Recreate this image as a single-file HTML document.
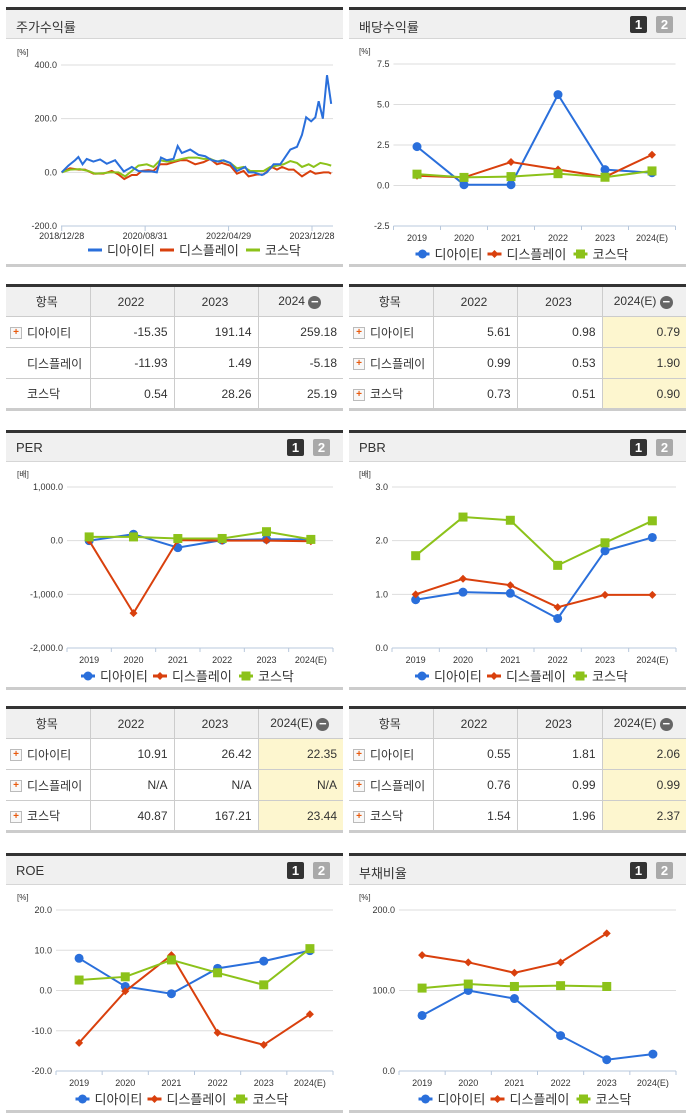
<!DOCTYPE html>
<html><head><meta charset="utf-8">
<style>
body{margin:0;width:691px;height:1115px;background:#fff;position:relative;overflow:hidden;font-family:"Liberation Sans","Noto Sans CJK KR",sans-serif;}
.hd{position:absolute;background:#f0f0f0;border-top:3px solid #333;border-bottom:1px solid #d6d6d6;box-sizing:border-box;font-size:13px;color:#333;}
.hd span.t{position:absolute;left:10px;top:7px;}
.btn{position:absolute;width:17px;height:17px;top:6px;color:#fff;font-weight:bold;font-size:13px;text-align:center;line-height:17px;border-radius:2px;}
.b1{background:#333}.b2{background:#a9a9a9}
.bot{position:absolute;height:3px;background:#ccc;}
table{position:absolute;border-collapse:collapse;font-size:12px;color:#333;border-top:3px solid #333;border-bottom:3px solid #ccc;}
td{border:1px solid #ccc;height:31px;padding:0 6px 0 4px;text-align:right;box-sizing:border-box;}
tr td:first-child{border-left:none;text-align:left;}
tr td:last-child{border-right:none;}
tr.h td{background:#f0f0f0;text-align:center;}
.pl{display:inline-block;width:10px;height:10px;border:1px solid #bbb;background:#f8f8f8;color:#e8590c;font-size:10px;line-height:10px;text-align:center;font-weight:bold;vertical-align:middle;margin:0 5px 0 0;}
.sp{display:inline-block;width:17px;}
.mn{display:inline-block;width:13px;height:13px;border-radius:50%;background:#666;color:#fff;line-height:12px;font-size:13px;vertical-align:middle;font-weight:bold;}
.y td.e{background:#fdf6cf;}
svg text{font-family:"Liberation Sans","Noto Sans CJK KR",sans-serif;}
</style></head><body>

<div class="hd" style="left:6px;top:7px;width:337px;height:32px"><span class="t">주가수익률</span></div>
<div class="hd" style="left:349px;top:7px;width:337px;height:32px"><span class="t">배당수익률</span><div class="btn b1" style="left:281px">1</div><div class="btn b2" style="left:307px">2</div></div>
<div class="bot" style="left:6px;top:264px;width:337px"></div>
<div class="bot" style="left:349px;top:264px;width:337px"></div>

<table style="left:6px;top:284px;width:337px">
<colgroup><col style="width:84px"><col style="width:84px"><col style="width:84px"><col></colgroup>
<tr class="h"><td>항목</td><td>2022</td><td>2023</td><td>2024 <span class="mn">−</span></td></tr>
<tr><td><span class="pl">+</span>디아이티</td><td>-15.35</td><td>191.14</td><td>259.18</td></tr>
<tr><td><span class="sp"></span>디스플레이</td><td>-11.93</td><td>1.49</td><td>-5.18</td></tr>
<tr><td><span class="sp"></span>코스닥</td><td>0.54</td><td>28.26</td><td>25.19</td></tr>
</table>
<table class="y" style="left:349px;top:284px;width:337px">
<colgroup><col style="width:84px"><col style="width:84px"><col style="width:85px"><col></colgroup>
<tr class="h"><td>항목</td><td>2022</td><td>2023</td><td>2024(E) <span class="mn">−</span></td></tr>
<tr><td><span class="pl">+</span>디아이티</td><td>5.61</td><td>0.98</td><td class="e">0.79</td></tr>
<tr><td><span class="pl">+</span>디스플레이</td><td>0.99</td><td>0.53</td><td class="e">1.90</td></tr>
<tr><td><span class="pl">+</span>코스닥</td><td>0.73</td><td>0.51</td><td class="e">0.90</td></tr>
</table>

<div class="hd" style="left:6px;top:430px;width:337px;height:32px"><span class="t">PER</span><div class="btn b1" style="left:281px">1</div><div class="btn b2" style="left:307px">2</div></div>
<div class="hd" style="left:349px;top:430px;width:337px;height:32px"><span class="t">PBR</span><div class="btn b1" style="left:281px">1</div><div class="btn b2" style="left:307px">2</div></div>
<div class="bot" style="left:6px;top:687px;width:337px"></div>
<div class="bot" style="left:349px;top:687px;width:337px"></div>

<table class="y" style="left:6px;top:706px;width:337px">
<colgroup><col style="width:84px"><col style="width:84px"><col style="width:84px"><col></colgroup>
<tr class="h"><td>항목</td><td>2022</td><td>2023</td><td>2024(E) <span class="mn">−</span></td></tr>
<tr><td><span class="pl">+</span>디아이티</td><td>10.91</td><td>26.42</td><td class="e">22.35</td></tr>
<tr><td><span class="pl">+</span>디스플레이</td><td>N/A</td><td>N/A</td><td class="e">N/A</td></tr>
<tr><td><span class="pl">+</span>코스닥</td><td>40.87</td><td>167.21</td><td class="e">23.44</td></tr>
</table>
<table class="y" style="left:349px;top:706px;width:337px">
<colgroup><col style="width:84px"><col style="width:84px"><col style="width:85px"><col></colgroup>
<tr class="h"><td>항목</td><td>2022</td><td>2023</td><td>2024(E) <span class="mn">−</span></td></tr>
<tr><td><span class="pl">+</span>디아이티</td><td>0.55</td><td>1.81</td><td class="e">2.06</td></tr>
<tr><td><span class="pl">+</span>디스플레이</td><td>0.76</td><td>0.99</td><td class="e">0.99</td></tr>
<tr><td><span class="pl">+</span>코스닥</td><td>1.54</td><td>1.96</td><td class="e">2.37</td></tr>
</table>

<div class="hd" style="left:6px;top:853px;width:337px;height:32px"><span class="t">ROE</span><div class="btn b1" style="left:281px">1</div><div class="btn b2" style="left:307px">2</div></div>
<div class="hd" style="left:349px;top:853px;width:337px;height:32px"><span class="t">부채비율</span><div class="btn b1" style="left:281px">1</div><div class="btn b2" style="left:307px">2</div></div>
<div class="bot" style="left:6px;top:1110px;width:337px"></div>
<div class="bot" style="left:349px;top:1110px;width:337px"></div>

<svg id="sv" width="691" height="1115" style="position:absolute;left:0;top:0"></svg>

<script>
const seriesNames=["디아이티","디스플레이","코스닥"];
const years=["2019","2020","2021","2022","2023","2024(E)"];
// stock return (months since 2018/12/28, %)
const stockTickLabels=["2018/12/28","2020/08/31","2022/04/29","2023/12/28"];
const stockTickMonths=[0,20,40,60];
const ditMonths=[0,1.6,3.2,4,5,6,7.6,9.2,10.8,12.8,14.9,16.8,18.4,20,21.6,22.8,23.8,25.2,26.8,27.8,28.8,30.8,32.8,34.4,36,37.6,38.8,40.4,42,44,44.8,46,48,49.2,50.8,52.4,54.8,56.4,57.6,58.6,59.8,60.8,61.6,62.6,63.6,64.6];
const ditReturn=[0,25,45,57,30,50,40,48,32,45,3,20,5,3,3,0,55,45,50,98,72,85,65,60,45,40,45,35,5,20,0,0,-10,0,30,30,85,95,140,205,190,205,265,200,362,255];
const dispMonths=[0,2,4,5.6,7.6,10,12,13.6,15,16.8,18,19.2,20.8,22,23.6,25.2,26.8,28.4,30,32,34,35.6,37.2,38.4,40.4,42,43.6,44.8,46.8,48.4,50.4,51.6,52.8,54.4,55.6,57.6,59.6,60.8,62.8,64,64.6];
const dispReturn=[0,15,10,10,-5,-5,5,-8,-25,-10,-10,5,8,5,30,30,38,45,45,30,38,50,30,35,25,-5,5,-15,-8,-8,20,10,20,10,10,-15,5,-5,0,0,-5];
const kosMonths=[0,2,4.4,6.4,8,10,11.6,13.6,15.2,16.8,18.4,20.4,22,23.6,25.2,26.8,28.8,30.4,32.4,34,35.6,37.2,38.4,40.4,42,43.6,45.2,46.8,48.4,50,51.6,53.2,54.8,56.4,57.6,59.2,60.4,62,63.6,64.6];
const kosReturn=[0,10,12,5,-5,-3,0,0,-15,5,25,30,20,45,40,42,50,55,55,50,50,40,45,35,15,20,5,5,5,20,25,30,42,35,20,30,20,35,30,25];
// dividend yield
const divDit=[2.4,0.05,0.05,5.61,0.98,0.79];
const divDisp=[0.6,0.5,1.45,0.99,0.53,1.90];
const divKos=[0.7,0.5,0.55,0.73,0.51,0.90];
// PER
const perDit=[0,120,-130,10.91,26.42,22.35];
const perDisp=[0,-1350,10,0,0,-10];
const perKos=[70,70,40,40.87,167.21,23.44];
// PBR
const pbrDit=[0.9,1.04,1.02,0.55,1.81,2.06];
const pbrDisp=[1.0,1.29,1.17,0.76,0.99,0.99];
const pbrKos=[1.72,2.44,2.38,1.54,1.96,2.37];
// ROE
const roeDit=[8,1,-0.8,5.5,7.3,9.9];
const roeDisp=[-13,-0.2,8.8,-10.5,-13.5,-5.9];
const roeKos=[2.6,3.4,7.6,4.4,1.4,10.4];
// debt ratio
const debtDit=[69,100,90,44,14,21];
const debtDisp=[144,135,122,135,171,null];
const debtKos=[103,108,105,106,105,null];

const COLORS=["#2a6fdb","#d9400d","#8cc21a"];
const sv=document.getElementById('sv');
const NS="http://www.w3.org/2000/svg";
function mk(tag,at,parent){const e=document.createElementNS(NS,tag);for(const k in at)e.setAttribute(k,at[k]);(parent||sv).appendChild(e);return e;}
function txt(s,x,y,anchor,size,parent){const t=mk('text',{x:x,y:y,'text-anchor':anchor,'font-size':size,fill:'#333'},parent);t.textContent=s;return t;}
function marker(i,x,y,g){
  if(i===0){const c=mk('circle',{cx:x,cy:y,r:4.5,fill:COLORS[0]},g);}
  else if(i===1){const c=mk('path',{d:`M${x} ${y-4}L${x+4} ${y}L${x} ${y+4}L${x-4} ${y}Z`,fill:COLORS[1]},g);}
  else {const c=mk('rect',{x:x-4.5,y:y-4.5,width:9,height:9,fill:COLORS[2]},g);}
}
function legend(cx,y,withMarkers){
  const g=mk('g',{});
  
  
  const w=[72,86,60];let x=cx-109;
  seriesNames.forEach((n,i)=>{
    const e=mk('g',{},g);
    
    
    mk('line',{x1:x,x2:x+14,y1:y,y2:y,stroke:COLORS[i],'stroke-width':3},e);
    if(withMarkers)marker(i,x+7,y,e);
    txt(n,x+19,y+5,'start',13,e);x+=w[i];
  });
}
function axisFrame(o){
  const g=mk('g',{});
  
  
  const ys=v=>o.y0+(o.vmax-v)/(o.vmax-o.vmin)*(o.y1-o.y0);
  o.ticks.forEach((v,k)=>{
    if(k<o.ticks.length-1)mk('line',{x1:o.x0,x2:o.x1,y1:ys(v),y2:ys(v),stroke:'#ddd'},g);
    const t=txt(o.tickLabels[k],o.x0-4,ys(v)+3,'end',9,g);
    
    
  });
  mk('line',{x1:o.x0,x2:o.x1,y1:o.y1,y2:o.y1,stroke:'#b8c8dc'},g);
  const u=txt(o.unit,o.ux,o.y0-10,'start',8,g);
  
  
  return ys;
}
function catChart(o,data){
  const ys=axisFrame(o);
  const bw=(o.x1-o.x0)/years.length;
  const xs=i=>o.x0+bw*(i+0.5);
  for(let i=0;i<=years.length;i++)mk('line',{x1:o.x0+bw*i,x2:o.x0+bw*i,y1:o.y1,y2:o.y1+4,stroke:'#b8c8dc'});
  years.forEach((yr,i)=>{const t=txt(yr,xs(i),o.y1+15,'middle',9);});
  data.forEach((arr,si)=>{
    const g=mk('g',{});
    
    
    let d='';arr.forEach((v,i)=>{if(v===null)return;d+=(d?'L':'M')+xs(i)+' '+ys(v);});
    mk('path',{d:d,fill:'none',stroke:COLORS[si],'stroke-width':2},g);
    arr.forEach((v,i)=>{if(v!==null)marker(si,xs(i),ys(v),g);});
  });
  legend((o.x0+o.x1)/2-10,o.y1+28,true);
}
// stock chart
(function(){
  const o={x0:61,x1:333,y0:65,y1:226,vmin:-200,vmax:400,ticks:[400,200,0,-200],tickLabels:["400.0","200.0","0.0","-200.0"],unit:"[%]",ux:17};
  const ys=axisFrame(o);
  const xs=m=>61.7+m*(312-61.7)/60;
  stockTickMonths.forEach((m,k)=>{mk('line',{x1:xs(m),x2:xs(m),y1:o.y1,y2:o.y1+5,stroke:'#b8c8dc'});const t=txt(stockTickLabels[k],xs(m),o.y1+13,'middle',9);});
  [[dispMonths,dispReturn,1],[kosMonths,kosReturn,2],[ditMonths,ditReturn,0]].forEach(([mx,vals,si])=>{
    const d=vals.map((v,i)=>(i?'L':'M')+xs(mx[i])+' '+ys(v)).join('');
    const p=mk('path',{d:d,fill:'none',stroke:COLORS[si],'stroke-width':2});
    
    
  });
  legend(197,250,false);
})();
catChart({x0:393.5,x1:675.5,y0:64,y1:226,vmin:-2.5,vmax:7.5,ticks:[7.5,5,2.5,0,-2.5],tickLabels:["7.5","5.0","2.5","0.0","-2.5"],unit:"[%]",ux:359},[divDit,divDisp,divKos]);
catChart({x0:67,x1:333,y0:487,y1:648,vmin:-2000,vmax:1000,ticks:[1000,0,-1000,-2000],tickLabels:["1,000.0","0.0","-1,000.0","-2,000.0"],unit:"[배]",ux:17},[perDit,perDisp,perKos]);
catChart({x0:392,x1:676,y0:487,y1:648,vmin:0,vmax:3,ticks:[3,2,1,0],tickLabels:["3.0","2.0","1.0","0.0"],unit:"[배]",ux:359},[pbrDit,pbrDisp,pbrKos]);
catChart({x0:56,x1:333,y0:910,y1:1071,vmin:-20,vmax:20,ticks:[20,10,0,-10,-20],tickLabels:["20.0","10.0","0.0","-10.0","-20.0"],unit:"[%]",ux:17},[roeDit,roeDisp,roeKos]);
catChart({x0:399,x1:676,y0:910,y1:1071,vmin:0,vmax:200,ticks:[200,100,0],tickLabels:["200.0","100.0","0.0"],unit:"[%]",ux:359},[debtDit,debtDisp,debtKos]);
</script>
</body></html>
